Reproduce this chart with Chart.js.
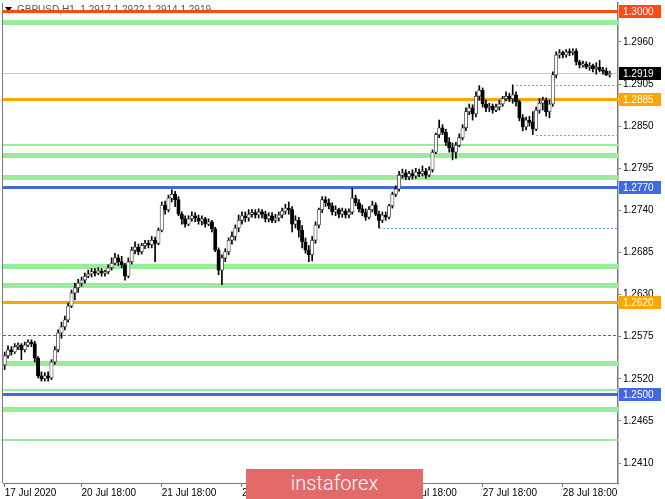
<!DOCTYPE html>
<html>
<head>
<meta charset="utf-8">
<script src="https://cdn.jsdelivr.net/npm/chart.js@4.4.0/dist/chart.umd.min.js"></script>
<style>
  html, body { margin: 0; padding: 0; background: #fff; }
  #wrap { position: relative; width: 665px; height: 499px; }
  #c { display: block; }
  .logo {
    position: absolute; left: 246px; top: 469px; width: 177px; height: 30px;
    background: #e36a6a; color: #fff; font: 300 20px Roboto, sans-serif;
    line-height: 29px; text-align: center;
  }
</style>
</head>
<body>
<div id="wrap">
  <canvas id="c" width="665" height="499"></canvas>
  <div class="logo">instaforex</div>
</div>
<script>
// GBPUSD H1, 17 Jul 19:00 .. 29 Jul 08:00
const title = 'GBPUSD,H1  1.2917 1.2922 1.2914 1.2919';

// trading sessions: day, first hour, last hour
const sessions = [
  ['17 Jul', 19, 23], ['20 Jul', 0, 23], ['21 Jul', 0, 23], ['22 Jul', 0, 23],
  ['23 Jul', 0, 23], ['24 Jul', 0, 23], ['27 Jul', 0, 23], ['28 Jul', 0, 23],
  ['29 Jul', 0, 8],
];
const emptySlots = 2; // right shift

const xTickIndex = [0, 23, 47, 71, 95, 119, 143, 167];
const xTickText = ['17 Jul 2020', '20 Jul 18:00', '21 Jul 18:00', '22 Jul 18:00',
  '23 Jul 18:00', '24 Jul 18:00', '27 Jul 18:00', '28 Jul 18:00'];

const yTicks = [1.2410, 1.2465, 1.2520, 1.2575, 1.2630, 1.2685, 1.2740, 1.2795, 1.2850, 1.2905, 1.2960];
const yMin = 1.23839;
const yMax = 1.30109;

const opens = [
  1.2538,1.2550,1.2558,1.2555,1.2562,1.2564,1.2558,1.2564,1.2568,1.2566,
  1.2547,1.2524,1.2520,1.2524,1.2521,1.2542,1.2558,1.2580,1.2588,1.2597,
  1.2615,1.2632,1.2639,1.2645,1.2649,1.2654,1.2657,1.2660,1.2658,1.2661,
  1.2658,1.2660,1.2665,1.2671,1.2678,1.2673,1.2669,1.2654,1.2673,1.2688,
  1.2692,1.2686,1.2694,1.2697,1.2695,1.2701,1.2697,1.2714,1.2747,1.2741,
  1.2756,1.2761,1.2754,1.2735,1.2729,1.2722,1.2729,1.2733,1.2730,1.2726,
  1.2729,1.2722,1.2725,1.2716,1.2688,1.2662,1.2678,1.2686,1.2701,1.2706,
  1.2717,1.2727,1.2733,1.2730,1.2735,1.2737,1.2734,1.2738,1.2735,1.2729,
  1.2733,1.2727,1.2730,1.2734,1.2739,1.2743,1.2741,1.2722,1.2727,1.2714,
  1.2699,1.2688,1.2682,1.2701,1.2721,1.2741,1.2754,1.2750,1.2746,1.2738,
  1.2741,1.2735,1.2739,1.2734,1.2738,1.2756,1.2750,1.2742,1.2737,1.2731,
  1.2741,1.2747,1.2735,1.2727,1.2734,1.2731,1.2746,1.2761,1.2768,1.2786,
  1.2789,1.2784,1.2788,1.2785,1.2790,1.2788,1.2791,1.2786,1.2793,1.2816,
  1.2839,1.2848,1.2842,1.2829,1.2822,1.2816,1.2825,1.2835,1.2848,1.2869,
  1.2874,1.2866,1.2889,1.2897,1.2879,1.2874,1.2876,1.2871,1.2875,1.2879,
  1.2886,1.2889,1.2886,1.2891,1.2882,1.2861,1.2849,1.2858,1.2855,1.2846,
  1.2871,1.2880,1.2884,1.2869,1.2879,1.2917,1.2943,1.2946,1.2943,1.2947,
  1.2946,1.2948,1.2934,1.2930,1.2931,1.2927,1.2929,1.2925,1.2927,1.2923,
  1.2922,1.2917,
];
const highs = [
  1.2555,1.2563,1.2562,1.2566,1.2567,1.2566,1.2568,1.2571,1.2571,1.2569,
  1.2549,1.2529,1.2528,1.2529,1.2545,1.2562,1.2584,1.2594,1.2602,1.2619,
  1.2636,1.2645,1.2650,1.2653,1.2658,1.2662,1.2664,1.2664,1.2665,1.2664,
  1.2662,1.2669,1.2678,1.2684,1.2682,1.2680,1.2671,1.2678,1.2692,1.2699,
  1.2696,1.2697,1.2701,1.2701,1.2706,1.2705,1.2717,1.2751,1.2752,1.2760,
  1.2767,1.2765,1.2758,1.2738,1.2733,1.2733,1.2738,1.2737,1.2734,1.2733,
  1.2731,1.2729,1.2727,1.2718,1.2691,1.2682,1.2690,1.2704,1.2712,1.2721,
  1.2734,1.2738,1.2738,1.2741,1.2741,1.2741,1.2742,1.2741,1.2739,1.2737,
  1.2737,1.2735,1.2738,1.2743,1.2748,1.2751,1.2745,1.2733,1.2731,1.2720,
  1.2704,1.2694,1.2706,1.2725,1.2743,1.2758,1.2758,1.2755,1.2750,1.2746,
  1.2743,1.2743,1.2742,1.2742,1.2769,1.2760,1.2754,1.2747,1.2742,1.2745,
  1.2752,1.2750,1.2739,1.2738,1.2738,1.2748,1.2764,1.2772,1.2791,1.2794,
  1.2793,1.2791,1.2793,1.2795,1.2794,1.2798,1.2795,1.2797,1.2819,1.2841,
  1.2858,1.2852,1.2846,1.2835,1.2828,1.2829,1.2840,1.2852,1.2874,1.2879,
  1.2878,1.2895,1.2903,1.2900,1.2884,1.2880,1.2879,1.2879,1.2884,1.2889,
  1.2895,1.2893,1.2904,1.2895,1.2884,1.2865,1.2862,1.2863,1.2869,1.2875,
  1.2886,1.2888,1.2887,1.2884,1.2921,1.2947,1.2950,1.2948,1.2950,1.2951,
  1.2951,1.2951,1.2936,1.2935,1.2934,1.2933,1.2931,1.2933,1.2936,1.2927,
  1.2926,1.2922,
];
const lows = [
  1.2532,1.2547,1.2551,1.2553,1.2558,1.2545,1.2555,1.2562,1.2562,1.2542,
  1.2521,1.2517,1.2517,1.2517,1.2519,1.2539,1.2555,1.2573,1.2584,1.2594,
  1.2613,1.2623,1.2633,1.2641,1.2645,1.2652,1.2653,1.2654,1.2656,1.2654,
  1.2654,1.2657,1.2662,1.2669,1.2668,1.2665,1.2649,1.2652,1.2670,1.2683,
  1.2682,1.2683,1.2690,1.2691,1.2691,1.2673,1.2695,1.2712,1.2735,1.2738,
  1.2751,1.2745,1.2733,1.2722,1.2718,1.2720,1.2726,1.2725,1.2722,1.2721,
  1.2718,1.2720,1.2712,1.2686,1.2656,1.2643,1.2673,1.2682,1.2696,1.2701,
  1.2712,1.2722,1.2725,1.2726,1.2731,1.2730,1.2730,1.2730,1.2725,1.2725,
  1.2724,1.2724,1.2726,1.2730,1.2735,1.2735,1.2712,1.2717,1.2705,1.2691,
  1.2684,1.2673,1.2674,1.2697,1.2717,1.2737,1.2745,1.2742,1.2734,1.2733,
  1.2730,1.2731,1.2730,1.2730,1.2735,1.2746,1.2738,1.2733,1.2727,1.2729,
  1.2738,1.2733,1.2717,1.2724,1.2727,1.2729,1.2743,1.2758,1.2765,1.2782,
  1.2780,1.2780,1.2781,1.2782,1.2784,1.2785,1.2782,1.2784,1.2790,1.2814,
  1.2835,1.2839,1.2825,1.2816,1.2806,1.2808,1.2823,1.2832,1.2844,1.2865,
  1.2858,1.2862,1.2884,1.2875,1.2869,1.2869,1.2867,1.2869,1.2871,1.2876,
  1.2883,1.2882,1.2880,1.2876,1.2857,1.2844,1.2845,1.2850,1.2839,1.2844,
  1.2867,1.2871,1.2863,1.2861,1.2876,1.2913,1.2939,1.2939,1.2940,1.2942,
  1.2943,1.2930,1.2926,1.2927,1.2925,1.2923,1.2921,1.2918,1.2921,1.2918,
  1.2916,1.2914,
];
const closes = [
  1.2550,1.2558,1.2555,1.2562,1.2564,1.2558,1.2564,1.2568,1.2566,1.2547,
  1.2524,1.2520,1.2524,1.2521,1.2542,1.2558,1.2580,1.2588,1.2597,1.2615,
  1.2632,1.2639,1.2645,1.2649,1.2654,1.2657,1.2660,1.2658,1.2661,1.2658,
  1.2660,1.2665,1.2671,1.2678,1.2673,1.2669,1.2654,1.2673,1.2688,1.2692,
  1.2686,1.2694,1.2697,1.2695,1.2701,1.2697,1.2714,1.2747,1.2741,1.2756,
  1.2761,1.2754,1.2735,1.2729,1.2722,1.2729,1.2733,1.2730,1.2726,1.2729,
  1.2722,1.2725,1.2716,1.2688,1.2662,1.2678,1.2686,1.2701,1.2706,1.2717,
  1.2727,1.2733,1.2730,1.2735,1.2737,1.2734,1.2738,1.2735,1.2729,1.2733,
  1.2727,1.2730,1.2734,1.2739,1.2743,1.2741,1.2722,1.2727,1.2714,1.2699,
  1.2688,1.2682,1.2701,1.2721,1.2741,1.2754,1.2750,1.2746,1.2738,1.2741,
  1.2735,1.2739,1.2734,1.2738,1.2756,1.2750,1.2742,1.2737,1.2731,1.2741,
  1.2747,1.2735,1.2727,1.2734,1.2731,1.2746,1.2761,1.2768,1.2786,1.2789,
  1.2784,1.2788,1.2785,1.2790,1.2788,1.2791,1.2786,1.2793,1.2816,1.2839,
  1.2848,1.2842,1.2829,1.2822,1.2816,1.2825,1.2835,1.2848,1.2869,1.2874,
  1.2866,1.2889,1.2897,1.2879,1.2874,1.2876,1.2871,1.2875,1.2879,1.2886,
  1.2889,1.2886,1.2891,1.2882,1.2861,1.2849,1.2858,1.2855,1.2846,1.2871,
  1.2880,1.2884,1.2869,1.2879,1.2917,1.2943,1.2946,1.2943,1.2947,1.2946,
  1.2948,1.2934,1.2930,1.2931,1.2927,1.2929,1.2925,1.2927,1.2923,1.2922,
  1.2917,1.2919,
];

// horizontal levels drawn on the chart
const redLevels = [1.3000];
const orangeLevels = [1.2885, 1.2620];
const blueLevels = [1.2770, 1.2500];
const greenThick = [1.2986, 1.2812, 1.2783, 1.2668, 1.2642, 1.2541, 1.2480];
const greenThin = [1.2825, 1.2506, 1.2440];
const dottedLevels = [1.2904, 1.2838, 1.2717];
const dottedStart = [153, 159, 112];
const dashedLevels = [1.2577];
const lastPrice = 1.2919;

// категории времени
const labels = [];
sessions.forEach(([day, h0, h1]) => {
  for (let h = h0; h <= h1; h++) labels.push(day + ' ' + String(h).padStart(2, '0') + ':00');
});
for (let k = 0; k < emptySlots; k++) labels.push('');

const COLORS = {
  red: '#ff4a12',
  orange: '#ffa500',
  blue: '#4169e1',
  green: '#98ee98',
  dotted: '#6aa6f2',
  dashed: '#2f70d8',
  axis: '#7a7a7a',
  price: '#c8c8c8',
};

function hline(ctx, area, yPix, color, width, dash, x0) {
  ctx.save();
  ctx.beginPath();
  ctx.strokeStyle = color;
  ctx.lineWidth = width;
  ctx.setLineDash(dash || []);
  const yy = width % 2 ? Math.round(yPix) + 0.5 : Math.round(yPix);
  ctx.moveTo(x0 != null ? x0 : area.left, yy);
  ctx.lineTo(area.right, yy);
  ctx.stroke();
  ctx.restore();
}

function priceBox(ctx, area, yPix, bg, text) {
  const yy = Math.round(yPix);
  ctx.fillStyle = bg;
  ctx.fillRect(area.right + 1, yy - 6, 42, 13);
  ctx.fillStyle = '#fff';
  ctx.font = '10px "Liberation Sans", Arial, sans-serif';
  ctx.textAlign = 'left';
  ctx.textBaseline = 'middle';
  ctx.fillText(text, area.right + 5, yy + 1);
}

const overlay = {
  id: 'mtOverlay',
  beforeDatasetsDraw(chart) {
    const { ctx, chartArea: area, scales } = chart;
    const y = scales.y;
    const x = scales.x;

    // заголовок
    ctx.save();
    ctx.fillStyle = '#000';
    ctx.beginPath();
    ctx.moveTo(5, 7); ctx.lineTo(12, 7); ctx.lineTo(8.5, 12); ctx.closePath();
    ctx.fill();
    ctx.fillStyle = '#555';
    ctx.font = '10px "Liberation Sans", Arial, sans-serif';
    ctx.textBaseline = 'middle';
    ctx.fillText(title, 17, 10);
    ctx.restore();

    ctx.save();
    ctx.beginPath();
    ctx.rect(area.left, area.top - 3, area.right - area.left, area.bottom - area.top + 3);
    ctx.clip();
    greenThin.forEach(v => hline(ctx, area, y.getPixelForValue(v), COLORS.green, 2));
    greenThick.forEach(v => hline(ctx, area, y.getPixelForValue(v), COLORS.green, 5));
    hline(ctx, area, y.getPixelForValue(lastPrice), COLORS.price, 1);
    dashedLevels.forEach(v => hline(ctx, area, y.getPixelForValue(v), COLORS.dashed, 1, [3, 2]));
    dottedLevels.forEach((v, i) =>
      hline(ctx, area, y.getPixelForValue(v), COLORS.dotted, 1, [2, 2], x.getPixelForValue(dottedStart[i])));
    redLevels.forEach(v => hline(ctx, area, y.getPixelForValue(v), COLORS.red, 3));
    orangeLevels.forEach(v => hline(ctx, area, y.getPixelForValue(v), COLORS.orange, 3));
    blueLevels.forEach(v => hline(ctx, area, y.getPixelForValue(v), COLORS.blue, 3));
    ctx.restore();
  },
  afterDraw(chart) {
    const { ctx, chartArea: area, scales } = chart;
    const y = scales.y;
    ctx.save();
    // левая рамка
    ctx.strokeStyle = COLORS.axis;
    ctx.lineWidth = 1;
    ctx.beginPath();
    ctx.moveTo(area.left - 0.5, area.top);
    ctx.lineTo(area.left - 0.5, area.bottom);
    ctx.stroke();

    redLevels.forEach(v => priceBox(ctx, area, y.getPixelForValue(v), COLORS.red, v.toFixed(4)));
    orangeLevels.forEach(v => priceBox(ctx, area, y.getPixelForValue(v), COLORS.orange, v.toFixed(4)));
    blueLevels.forEach(v => priceBox(ctx, area, y.getPixelForValue(v), COLORS.blue, v.toFixed(4)));
    priceBox(ctx, area, y.getPixelForValue(lastPrice), '#000', lastPrice.toFixed(4));
    ctx.restore();
  },
};

const wicks = lows.map((l, i) => [l, highs[i]]);
const bodies = opens.map((o, i) => [o, closes[i]]);
const bullish = opens.map((o, i) => closes[i] >= o);

new Chart(document.getElementById('c'), {
  type: 'bar',
  data: {
    labels,
    datasets: [
      {
        data: bodies,
        backgroundColor: bullish.map(b => (b ? '#ffffff' : '#000000')),
        borderColor: bullish.map(b => (b ? '#3a3a3a' : '#000000')),
        borderWidth: 0.8,
        borderSkipped: false,
        barThickness: 3.4,
        minBarLength: 1,
        grouped: false,
        order: 0,
      },
      {
        data: wicks,
        backgroundColor: '#000',
        borderWidth: 0,
        barThickness: 1,
        grouped: false,
        order: 1,
      },
    ],
  },
  options: {
    responsive: false,
    animation: false,
    devicePixelRatio: 1,
    layout: { padding: { left: 3, top: 3, right: 0, bottom: 0 } },
    plugins: { legend: { display: false }, tooltip: { enabled: false } },
    scales: {
      x: {
        offset: true,
        grid: { display: true, drawOnChartArea: false, offset: false, tickLength: 4, color: COLORS.axis },
        border: { display: true, color: COLORS.axis },
        ticks: {
          autoSkip: false,
          maxRotation: 0,
          align: 'start',
          padding: 0,
          color: '#000',
          font: { family: '"Liberation Sans", Arial, sans-serif', size: 10 },
          callback: (v, idx) => {
            const k = xTickIndex.indexOf(idx);
            return k >= 0 ? xTickText[k] : null;
          },
        },
        afterFit: (s) => { s.height = 16; s.paddingLeft = 0; s.paddingRight = 0; },
      },
      y: {
        position: 'right',
        min: yMin,
        max: yMax,
        afterBuildTicks: (s) => { s.ticks = yTicks.map(v => ({ value: v })); },
        grid: { display: true, drawOnChartArea: false, tickLength: 3, color: COLORS.axis },
        border: { display: true, color: COLORS.axis, width: 1.5 },
        ticks: {
          padding: 2,
          color: '#000',
          font: { family: '"Liberation Sans", Arial, sans-serif', size: 10 },
          callback: (v) => Number(v).toFixed(4),
        },
        afterFit: (s) => { s.width = 47; s.paddingTop = 0; s.paddingBottom = 0; },
      },
    },
  },
  plugins: [overlay],
});
</script>
</body>
</html>
